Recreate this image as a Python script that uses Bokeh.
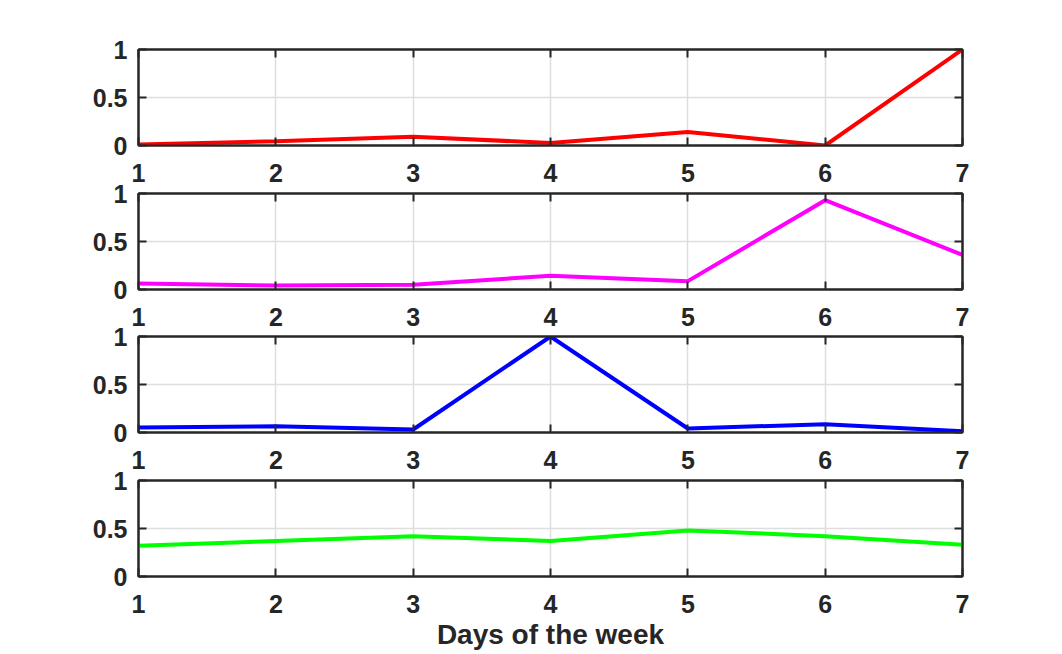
from bokeh.plotting import figure
from bokeh.layouts import column
from bokeh.models import LinearAxis, FixedTicker, Range1d
from bokeh.embed import file_html
from bokeh.resources import INLINE

days = [1, 2, 3, 4, 5, 6, 7]
x_ticks = [1, 2, 3, 4, 5, 6, 7]
y_ticks = [0, 0.5, 1]
y_tick_labels = ["0", "0.5", "1"]
x_label = "Days of the week"

red_vals = [0.01, 0.045, 0.09, 0.027, 0.14, 0.0, 1.0]
magenta_vals = [0.063, 0.042, 0.05, 0.142, 0.087, 0.93, 0.36]
blue_vals = [0.052, 0.065, 0.031, 1.0, 0.042, 0.087, 0.013]
green_vals = [0.32, 0.37, 0.42, 0.37, 0.48, 0.42, 0.33]

series = [
    (red_vals, "#ff0000"),
    (magenta_vals, "#ff00ff"),
    (blue_vals, "#0000ff"),
    (green_vals, "#00ff00"),
]

TXT = "#262626"
FONT = "Liberation Sans"
tops = [49, 40, 40, 30]
bottoms = [50, 50, 50, 78]
margins = [0, -42, -43, -32]

figs = []
for i, (vals, col) in enumerate(series):
    p = figure(frame_width=824, frame_height=96,
               x_range=Range1d(1, 7), y_range=Range1d(0, 1),
               output_backend="svg", toolbar_location=None,
               x_axis_location=None, y_axis_location=None,
               min_border_left=138, min_border_right=60,
               min_border_top=tops[i], min_border_bottom=bottoms[i],
               margin=(margins[i], 0, 0, 0))
    p.outline_line_color = TXT
    p.outline_line_width = 2
    p.outline_line_alpha = 1
    p.background_fill_color = "white"
    p.border_fill_color = None

    xb = LinearAxis(ticker=FixedTicker(ticks=x_ticks))
    xt = LinearAxis(ticker=FixedTicker(ticks=x_ticks))
    yl = LinearAxis(ticker=FixedTicker(ticks=y_ticks))
    yr = LinearAxis(ticker=FixedTicker(ticks=y_ticks))
    yl.major_label_overrides = {t: s for t, s in zip(y_ticks, y_tick_labels)}
    for ax in (xb, xt, yl, yr):
        ax.major_tick_in = 8
        ax.major_tick_out = 0
        ax.minor_tick_line_color = None
        ax.major_tick_line_color = TXT
        ax.major_tick_line_width = 2
        ax.axis_line_color = TXT
        ax.axis_line_width = 2
        ax.major_label_text_font = FONT
        ax.major_label_text_font_style = "bold"
        ax.major_label_text_font_size = "25px"
        ax.major_label_text_color = TXT
    xt.major_label_overrides = {t: "" for t in x_ticks}
    yr.major_label_overrides = {t: "" for t in y_ticks}
    xt.major_label_standoff = 0
    yr.major_label_standoff = 0
    xb.major_label_standoff = 18
    yl.major_label_standoff = 11
    if i == 3:
        xb.axis_label = x_label
        xb.axis_label_text_font = FONT
        xb.axis_label_text_font_style = "bold"
        xb.axis_label_text_font_size = "28px"
        xb.axis_label_text_color = TXT
        xb.axis_label_standoff = 3
    p.add_layout(xb, "below")
    p.add_layout(xt, "above")
    p.add_layout(yl, "left")
    p.add_layout(yr, "right")

    p.xgrid.ticker = FixedTicker(ticks=x_ticks)
    p.ygrid.ticker = FixedTicker(ticks=y_ticks)
    for g in (p.xgrid, p.ygrid):
        g.grid_line_color = "#dedede"
        g.grid_line_width = 1.5

    p.line(days, vals, line_color=col, line_width=4)
    figs.append(p)

layout = column(*figs, spacing=0)
open("out.html", "w").write(file_html(layout, INLINE))
